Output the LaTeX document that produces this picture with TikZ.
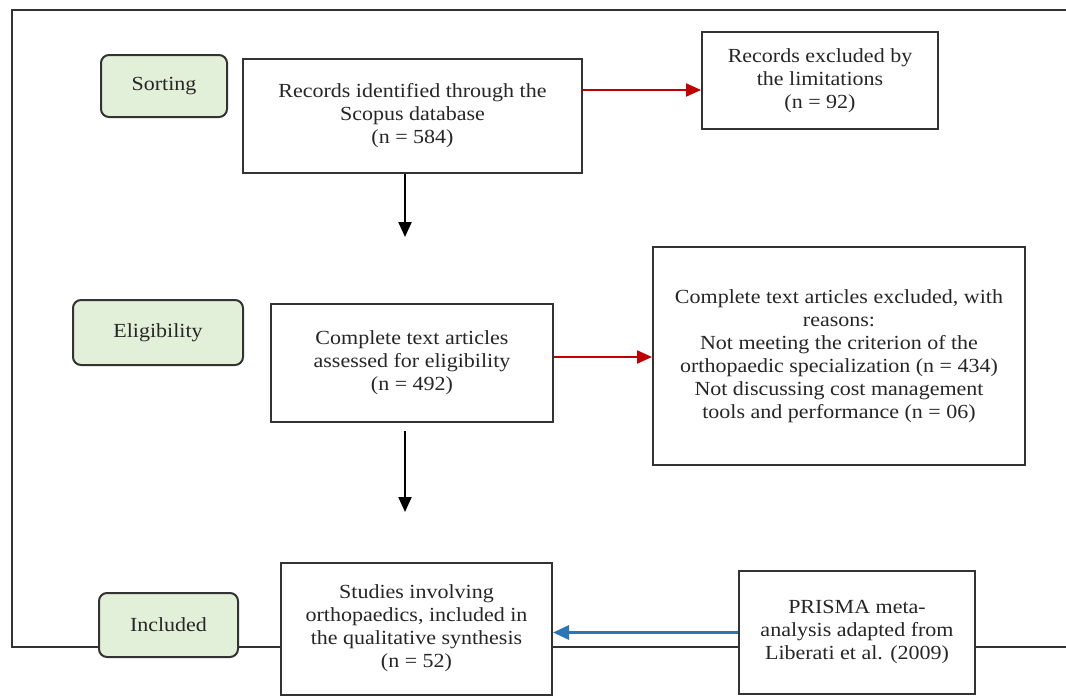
\documentclass[tikz,border=0pt]{standalone}
\usepackage{fontspec}
\setmainfont{Liberation Serif}[FakeStretch=1.1]
\usetikzlibrary{arrows.meta}

\definecolor{stagegreen}{HTML}{E2EFD9}
\definecolor{boxline}{HTML}{333333}
\definecolor{exclred}{HTML}{C00000}
\definecolor{srcblue}{HTML}{2E75B6}

\begin{document}
\begin{tikzpicture}[
    x=0.5pt, y=-0.5pt,
    every node/.style={font=\fontsize{10}{11.5}\selectfont, text=black!85},
    box/.style={rectangle, draw=boxline, line width=1pt, fill=white, align=center, inner sep=2pt},
    stage/.style={box, rounded corners=4pt, fill=stagegreen},
    frame/.style={draw=boxline, line width=1pt},
    flow/.style={draw=black, line width=1.1pt, -{Triangle[width=6.5pt,length=7.5pt]}},
    exclude/.style={flow, draw=exclred, line width=1pt},
    source/.style={flow, draw=srcblue, line width=1.5pt, -{Triangle[width=7pt,length=8pt]}}
]
\useasboundingbox (0,0) rectangle (1066,696);

% Outer frame (open on the right)
\draw[frame] (1075,10) -- (12,10) -- (12,647) -- (1075,647);

% Stage labels on the left
\node[stage, minimum width=63pt, minimum height=31pt] (sorting) at (164,86) {Sorting};
\node[stage, minimum width=85pt, minimum height=32.5pt] (eligibility) at (158,332.5) {Eligibility};
\node[stage, minimum width=69.5pt, minimum height=32pt] (included) at (168.5,625) {Included};

% Main flow
\node[box, minimum width=169.5pt, minimum height=57pt] (records) at (412.5,116)
    {Records identified through the\\Scopus database\\(n = 584)};
\node[box, minimum width=141pt, minimum height=59pt] (assessed) at (412,363)
    {Complete text articles\\assessed for eligibility\\(n = 492)};
\node[box, minimum width=135.5pt, minimum height=66pt] (studies) at (416.5,628.5)
    {Studies involving\\orthopaedics, included in\\the qualitative synthesis\\(n = 52)};

% Exclusions and source
\node[box, minimum width=118pt, minimum height=48.5pt] (excl1) at (820,80.5)
    {Records excluded by\\the limitations\\(n = 92)};
\node[box, minimum width=186pt, minimum height=109pt] (excl2) at (839,356)
    {Complete text articles excluded, with\\reasons:\\Not meeting the criterion of the\\orthopaedic specialization (n = 434)\\Not discussing cost management\\tools and performance (n = 06)};
\node[box, minimum width=118pt, minimum height=61.5pt] (prisma) at (857,632.5)
    {PRISMA meta-\\analysis adapted from\\Liberati et al. (2009)};

% Free ends of the downward arrows
\coordinate (down1) at (405,237);
\coordinate (down2) at (405,512);

% Edges
\draw[flow] (records.south -| down1) -- (down1);
\draw[flow, shorten <=4pt] (assessed.south -| down2) -- (down2);
\draw[exclude] ([yshift=13pt]records.east) -- ([yshift=13pt]records.east -| excl1.west);
\draw[exclude] ([yshift=3pt]assessed.east) -- ([yshift=3pt]assessed.east -| excl2.west);
\draw[source] (prisma.west) -- (prisma.west -| studies.east);

\end{tikzpicture}
\end{document}
